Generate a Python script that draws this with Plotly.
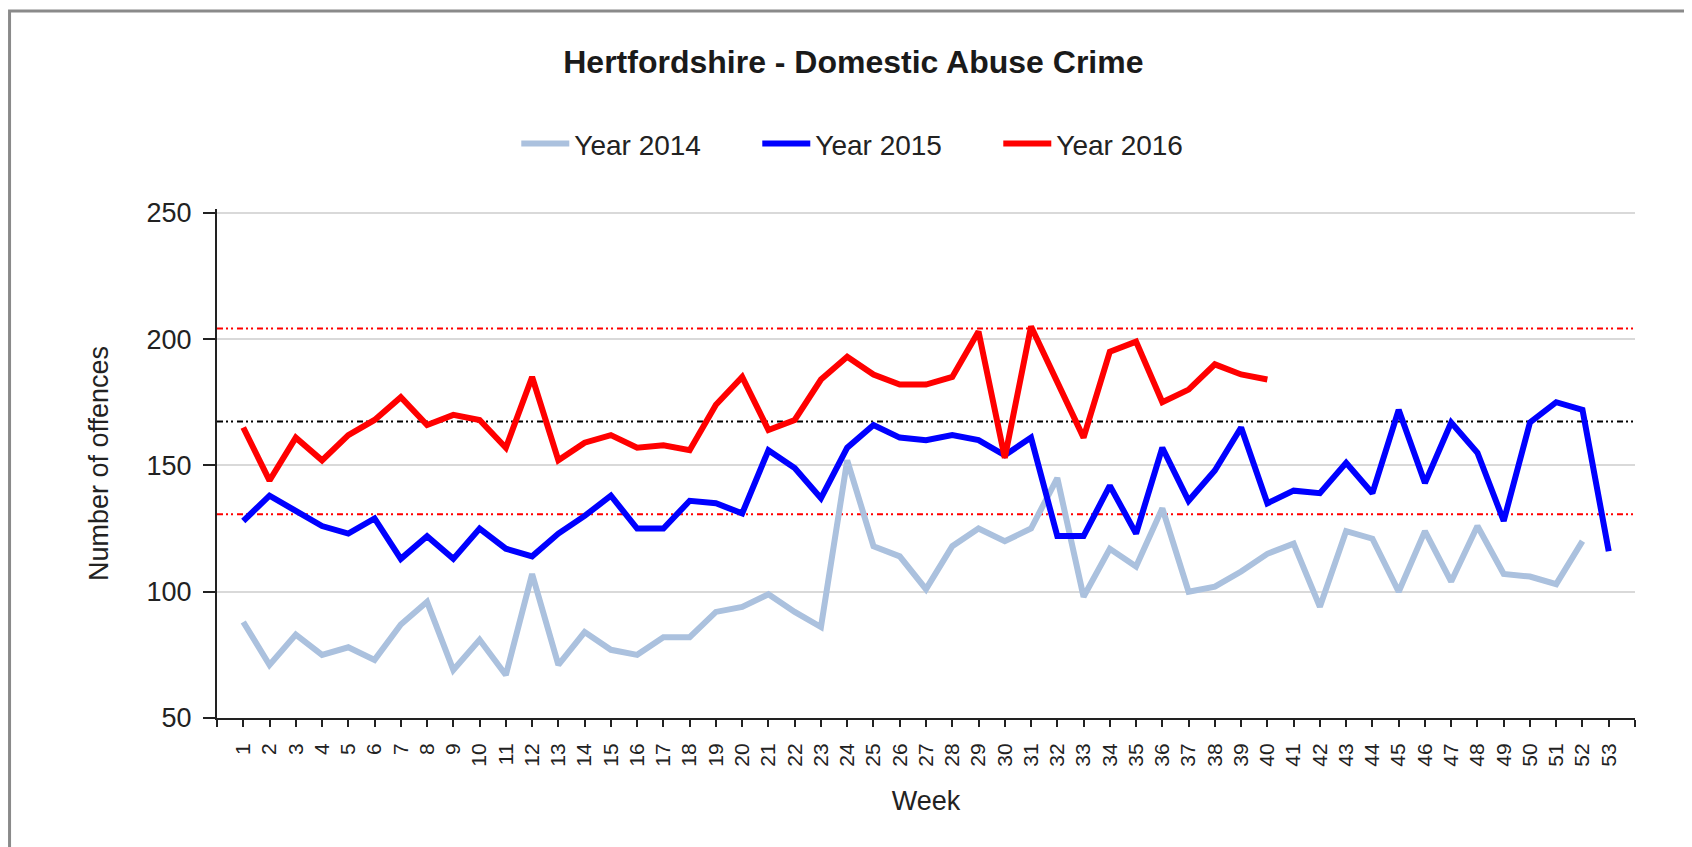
import plotly.graph_objects as go

weeks = list(range(1, 54))

year_2014 = [88, 71, 83, 75, 78, 73, 87, 96, 69, 81,
             67, 107, 71, 84, 77, 75, 82, 82, 92, 94,
             99, 92, 86, 152, 118, 114, 101, 118, 125, 120,
             125, 145, 98, 117, 110, 133, 100, 102, 108, 115,
             119, 94, 124, 121, 100, 124, 104, 126, 107, 106,
             103, 120]
year_2015 = [128, 138, 132, 126, 123, 129, 113, 122, 113, 125,
             117, 114, 123, 130, 138, 125, 125, 136, 135, 131,
             156, 149, 137, 157, 166, 161, 160, 162, 160, 154,
             161, 122, 122, 142, 123, 157, 136, 148, 165, 135,
             140, 139, 151, 139, 172, 143, 167, 155, 128, 167,
             175, 172, 116]
year_2016 = [165, 144, 161, 152, 162, 168, 177, 166, 170, 168,
             157, 185, 152, 159, 162, 157, 158, 156, 174, 185,
             164, 168, 184, 193, 186, 182, 182, 185, 203, 153,
             205, 183, 161, 195, 199, 175, 180, 190, 186, 184]

series_names = ['Year 2014', 'Year 2015', 'Year 2016']
series_colors = ['#ABC1DE', '#0000FF', '#FF0000']

# control lines
upper_limit = 204.2
mean_level = 167.4
lower_limit = 130.7

y_ticks = [50, 100, 150, 200, 250]
x_tickvals = list(range(0, 55))
x_ticktext = [''] + [str(w) for w in weeks] + ['']

font_family = 'Liberation Sans, Arial, sans-serif'

fig = go.Figure()

for name, values, color in zip(series_names, [year_2014, year_2015, year_2016], series_colors):
    fig.add_trace(go.Scatter(
        x=weeks[:len(values)], y=values,
        mode='lines',
        name=name,
        line=dict(color=color, width=6),
    ))

# dash-dot control lines across the plot
for level, color in [(upper_limit, '#FF0000'), (mean_level, '#000000'), (lower_limit, '#FF0000')]:
    fig.add_shape(
        type='line', xref='paper', yref='y',
        x0=0, x1=1, y0=level, y1=level,
        line=dict(color=color, width=2, dash='6px,3px,2px,3px,2px,4px'),
        layer='below',
    )

# outer frame (left and top edges visible)
fig.add_shape(
    type='rect', xref='paper', yref='paper',
    x0=-0.1463, x1=1.06, y0=-0.3, y1=1.389,
    line=dict(color='#8a8a8a', width=3),
    fillcolor='rgba(0,0,0,0)',
)

fig.update_layout(
    width=1684, height=839,
    margin=dict(l=209, r=57, t=201, b=129),
    paper_bgcolor='white',
    plot_bgcolor='white',
    font=dict(family=font_family, color='#222222'),
    title=dict(
        text='<b>Hertfordshire - Domestic Abuse Crime</b>',
        x=0.502, xanchor='center', xref='container',
        y=0.936, yanchor='middle', yref='container',
        font=dict(size=32, color='#1a1a1a'),
    ),
    showlegend=True,
    legend=dict(
        orientation='h',
        xref='container', x=0.5165, xanchor='center',
        yref='container', y=0.838, yanchor='middle',
        font=dict(size=28),
        itemwidth=48,
        entrywidth=178,
        bgcolor='rgba(0,0,0,0)',
    ),
    xaxis=dict(
        range=[0, 54],
        tickmode='array', tickvals=x_tickvals, ticktext=x_ticktext,
        tickangle=-90,
        tickfont=dict(size=21),
        ticks='outside', ticklen=7, tickwidth=2, tickcolor='#222222',
        showline=True, linecolor='#222222', linewidth=2,
        showgrid=False, zeroline=False,
        ticklabelstandoff=8,
        title=dict(text='Week', font=dict(size=27), standoff=25),
        automargin=False,
    ),
    yaxis=dict(
        range=[50, 251.5],
        tickmode='array', tickvals=y_ticks,
        tickfont=dict(size=27),
        ticks='outside', ticklen=12, tickwidth=2, tickcolor='#222222',
        showline=True, linecolor='#222222', linewidth=2,
        showgrid=True, gridcolor='#D9D9D9', gridwidth=2,
        zeroline=False,
        ticklabelstandoff=6,
        title=dict(text='Number of offences', font=dict(size=27), standoff=30),
        automargin=False,
    ),
)

fig.write_html("out.html")
